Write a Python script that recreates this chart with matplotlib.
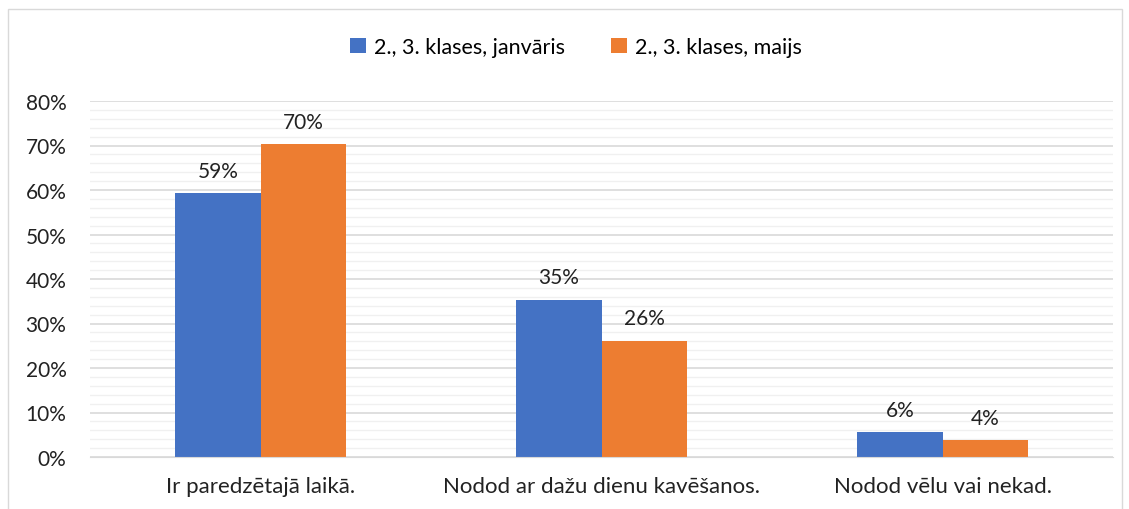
import matplotlib.pyplot as plt
import matplotlib.patches as mpatches
import numpy as np
from matplotlib.ticker import MultipleLocator, PercentFormatter

plt.rcParams['font.family'] = ['Lato', 'DejaVu Sans']

categories = ["Ir paredzētajā laikā.", "Nodod ar dažu dienu kavēšanos.", "Nodod vēlu vai nekad."]
series_names = ["2., 3. klases, janvāris", "2., 3. klases, maijs"]
january = [59.3, 35.3, 5.6]
may = [70.3, 26.1, 3.8]
january_labels = ["59%", "35%", "6%"]
may_labels = ["70%", "26%", "4%"]

BLUE = "#4472C4"
ORANGE = "#ED7D31"

fig = plt.figure(figsize=(11.29, 5.10), dpi=100)
ax = fig.add_axes([90 / 1129, 52 / 510, 1023 / 1129, 356 / 510])

x = np.arange(len(categories))
w = 0.25
b1 = ax.bar(x - w / 2, january, w, color=BLUE, label=series_names[0], zorder=3)
b2 = ax.bar(x + w / 2, may, w, color=ORANGE, label=series_names[1], zorder=3)

for bars, labels in [(b1, january_labels), (b2, may_labels)]:
    for bar, lab in zip(bars, labels):
        ax.annotate(lab, (bar.get_x() + bar.get_width() / 2, bar.get_height()),
                    xytext=(0, 9), textcoords="offset points",
                    ha="center", va="bottom", fontsize=15, color="#222222")

ax.set_xlim(-0.5, 2.5)
ax.set_ylim(0, 80)
ax.yaxis.set_major_locator(MultipleLocator(10))
ax.yaxis.set_minor_locator(MultipleLocator(2))
ax.yaxis.set_major_formatter(PercentFormatter(decimals=0))
ax.grid(axis="y", which="major", color="#d9d9d9", linewidth=1.2, zorder=0)
ax.grid(axis="y", which="minor", color="#f0f0f0", linewidth=1.0, zorder=0)
ax.set_xticks(x)
ax.set_xticklabels(categories)
ax.tick_params(axis="both", which="both", length=0, colors="#222222")
ax.tick_params(axis="x", pad=14, labelsize=16)
ax.tick_params(axis="y", pad=17, labelsize=15)
for s in ["top", "right", "left"]:
    ax.spines[s].set_visible(False)
ax.spines["bottom"].set_color("#d9d9d9")
ax.spines["bottom"].set_zorder(4)

fig.legend(handles=[b1, b2], loc="center", bbox_to_anchor=(0.51, 1 - 48 / 510),
           ncol=2, frameon=False, fontsize=15.5, handlelength=0.75, handleheight=0.75,
           columnspacing=2.15, handletextpad=0.35)

fig.patches.append(mpatches.Rectangle((8 / 1129, -0.05), 1114 / 1129, 1.05 - 10 / 510,
                                      transform=fig.transFigure, fill=False,
                                      edgecolor="#d9d9d9", linewidth=1))

fig.savefig("out.png", dpi=100)
